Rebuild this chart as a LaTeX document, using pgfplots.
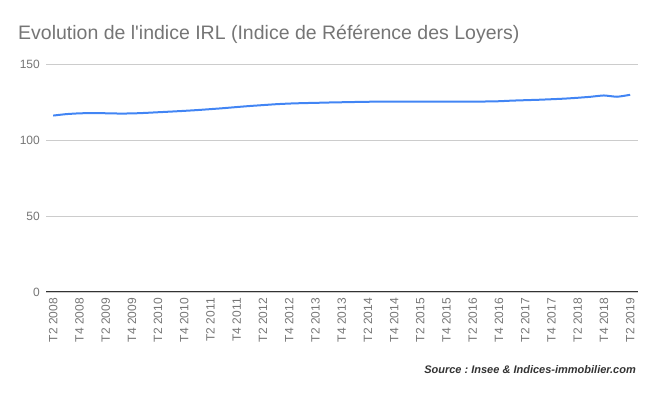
\documentclass[border=0pt]{standalone}
\usepackage{fontspec}
\setmainfont{Liberation Sans}
\usepackage{pgfplots}
\pgfplotsset{compat=1.18}
\frenchspacing
\definecolor{titlegray}{HTML}{757575}
\definecolor{tickgray}{HTML}{757575}
\definecolor{gridgray}{HTML}{CCCCCC}
\definecolor{lineblue}{HTML}{4285F4}
\definecolor{srcgray}{HTML}{333333}
\begin{document}
\begin{tikzpicture}[x=1pt,y=1pt]
\path[use as bounding box] (0,0) rectangle (657,396);
\node[anchor=base west, text=titlegray, font=\fontsize{19.5}{22}\selectfont, inner sep=0pt] at (18,356) {Evolution de l\textquotesingle indice IRL (Indice de Référence des Loyers)};
\begin{axis}[
  at={(46pt,104pt)}, anchor=south west,
  scale only axis, width=592pt, height=228pt,
  xmin=-0.55, xmax=44.6, ymin=0, ymax=150,
  axis line style={draw=none},
  tick style={draw=none},
  ytick={0,50,100,150},
  ymajorgrids, grid style={gridgray, line width=0.8pt},
  xtick={0,2,...,44},
  xticklabels={T2 2008,T4 2008,T2 2009,T4 2009,T2 2010,T4 2010,T2 2011,T4 2011,T2 2012,T4 2012,T2 2013,T4 2013,T2 2014,T4 2014,T2 2015,T4 2015,T2 2016,T4 2016,T2 2017,T4 2017,T2 2018,T4 2018,T2 2019},
  xticklabel style={rotate=90, anchor=east, text=tickgray, font=\fontsize{12}{14}\selectfont, inner sep=0pt},
  yticklabel style={text=tickgray, font=\fontsize{12}{14}\selectfont, inner sep=0pt},
  /pgf/number format/assume math mode=true,
  xticklabel shift=6pt, yticklabel shift=6pt,
  major tick length=0pt,
  clip=false,
]
\draw[srcgray, line width=1pt] (axis cs:-0.55,0) -- (axis cs:44.6,0);
\addplot[lineblue, line width=2pt, smooth, tension=0.3, mark=none] coordinates {
(0,116.07) (1,117.03) (2,117.54) (3,117.70) (4,117.59) (5,117.41) (6,117.47) (7,117.81)
(8,118.26) (9,118.70) (10,119.17) (11,119.69) (12,120.31) (13,120.95) (14,121.68) (15,122.37)
(16,122.96) (17,123.55) (18,123.97) (19,124.25) (20,124.44) (21,124.66) (22,124.83) (23,125.00)
(24,125.15) (25,125.24) (26,125.29) (27,125.19) (28,125.25) (29,125.26) (30,125.28) (31,125.26)
(32,125.25) (33,125.33) (34,125.50) (35,125.90) (36,126.19) (37,126.46) (38,126.82) (39,127.22)
(40,127.77) (41,128.45) (42,129.30) (43,128.45) (44,129.72)
};
\end{axis}
\node[anchor=base east, text=srcgray, font=\fontsize{11}{13}\selectfont\bfseries\itshape, inner sep=0pt] at (636,22) {Source : Insee \& Indices-immobilier.com};
\end{tikzpicture}
\end{document}
